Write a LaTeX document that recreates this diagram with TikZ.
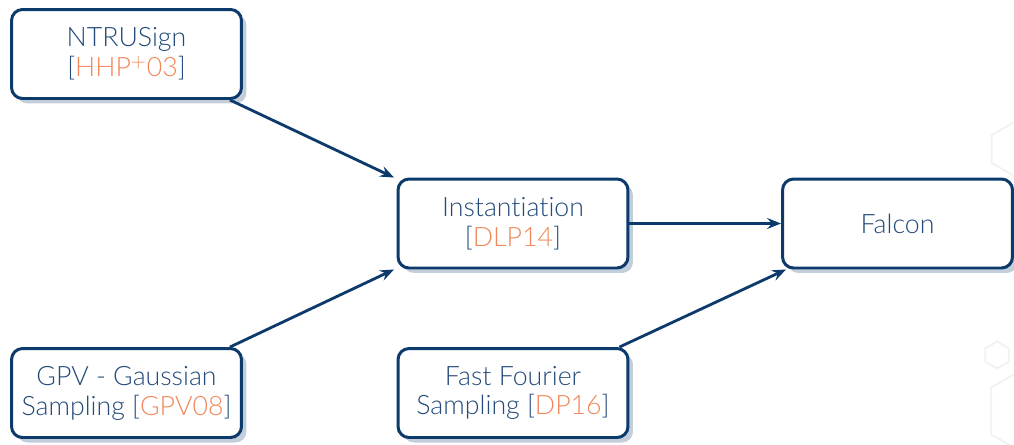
\documentclass[tikz,border=0pt]{standalone}
\usepackage{fontspec}
\setmainfont{Lato}[UprightFont=* Light, Ligatures=NoCommon]
\usepackage{tikz}
\usetikzlibrary{arrows.meta, shadows}

\definecolor{navy}{HTML}{0B3A6B}
\definecolor{txtblue}{HTML}{234A7A}
\definecolor{citeorange}{HTML}{F0885A}
\definecolor{shadowblue}{HTML}{C3CEDB}
\definecolor{hexgray}{HTML}{F1F1F1}

\newcommand{\citeref}[1]{[{\color{citeorange}#1}]}

\tikzset{
	box/.style={draw=navy, line width=1.7pt, rounded corners=0.22cm, fill=white,
		minimum width=4.6cm, minimum height=1.78cm, align=center, text=txtblue,
		font=\fontsize{15.2}{17}\selectfont,
		drop shadow={shadow xshift=0.1cm, shadow yshift=-0.1cm, fill=shadowblue, opacity=1}},
	link/.style={draw=navy, line width=1.6pt, -{Stealth[length=0.28cm, width=0.22cm, inset=0.1cm]}},
	hex/.style={draw=hexgray, line width=1pt}
}

\begin{document}
\begin{tikzpicture}[x=0.02cm, y=-0.02cm]
	
	\useasboundingbox (0,0) rectangle (1014,444);
	\clip (0,0) rectangle (1014,444);
	
	% faint hexagons on the right
	\draw[hex] (1016,149) +(90:28) -- +(150:28) -- +(210:28) -- +(270:28) -- +(330:28) -- +(30:28) -- cycle;
	\draw[hex] (997,355) +(90:13.5) -- +(150:13.5) -- +(210:13.5) -- +(270:13.5) -- +(330:13.5) -- +(30:13.5) -- cycle;
	\draw[hex] (1032,411) +(90:47) -- +(150:47) -- +(210:47) -- +(270:47) -- +(330:47) -- +(30:47) -- cycle;
	
	\node[box] (ntru) at (126.5,54) {NTRUSign\\\citeref{HHP$^{+}$03}};
	\node[box] (gpv) at (126.5,393) {GPV - Gaussian\\Sampling \citeref{GPV08}};
	\node[box] (inst) at (513,223.5) {Instantiation\\\citeref{DLP14}};
	\node[box] (fft) at (513,393) {Fast Fourier\\Sampling \citeref{DP16}};
	\node[box] (falcon) at (897.5,223.5) {Falcon};
	
	\draw[link] ([xshift=-0.26cm]ntru.south east) -- ([xshift=-0.05cm]inst.north west);
	\draw[link] ([xshift=-0.26cm]gpv.north east) -- ([xshift=-0.05cm]inst.south west);
	\draw[link] (inst.east) -- (falcon.west);
	\draw[link] ([xshift=-0.2cm]fft.north east) -- ([xshift=0.1cm]falcon.south west);
	
\end{tikzpicture}
\end{document}
